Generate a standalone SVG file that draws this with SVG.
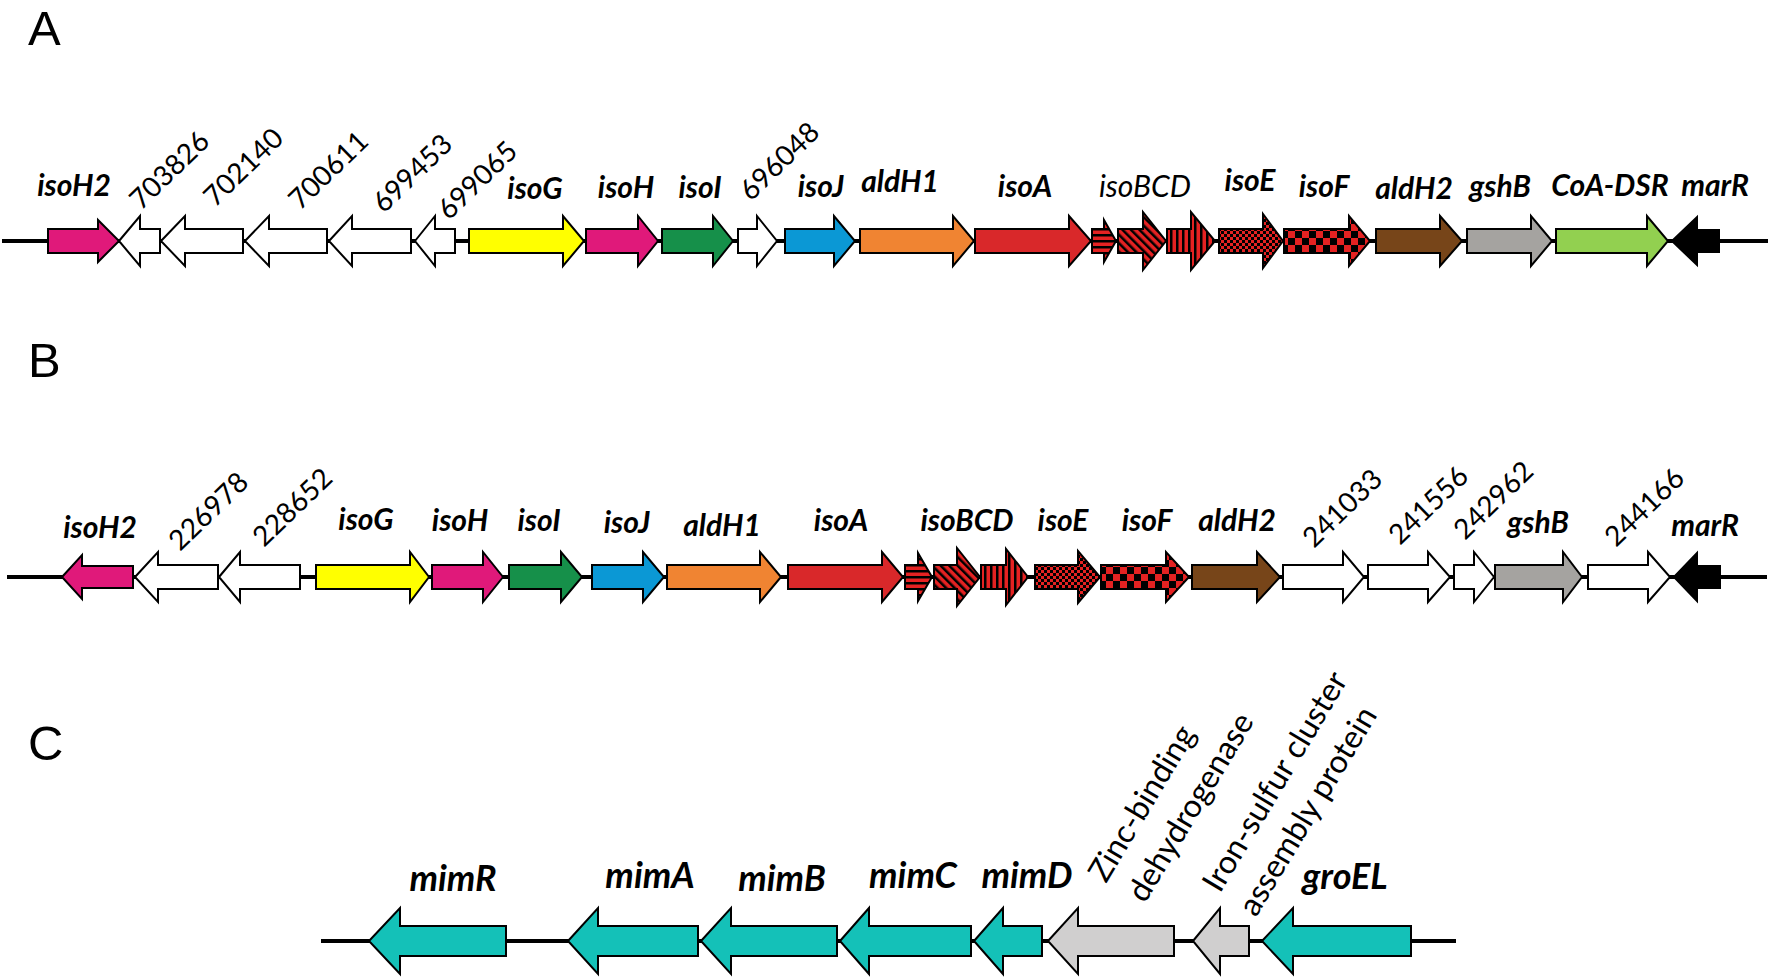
<svg xmlns="http://www.w3.org/2000/svg" width="1770" height="977" viewBox="0 0 1770 977">
<style>
  .bg{fill:#fff}
  .ln{stroke:#000;stroke-width:4;fill:none}
  .g{stroke:#000;stroke-width:2;stroke-linejoin:miter}
  .w{fill:#fff}
  .pk{fill:#E0197A}
  .ye{fill:#FFFF00}
  .gr{fill:#16904A}
  .bl{fill:#0B98D5}
  .or{fill:#F08432}
  .rd{fill:#D9282A}
  .br{fill:#774519}
  .gy{fill:#A5A3A0}
  .lg{fill:#92D050}
  .bk{fill:#000}
  .tl{fill:#14C1B8}
  .lgy{fill:#D0CFCF}
  .hs{fill:url(#phs)}
  .ds{fill:url(#pds)}
  .vs{fill:url(#pvs)}
  .sc{fill:url(#psc)}
  .bc{fill:url(#pbc)}
  .lab{font-family:Lato,"Open Sans","Liberation Sans",sans-serif;font-weight:bold;font-style:italic;font-size:30px;fill:#000;text-anchor:middle}
  .labi{font-family:Lato,"Open Sans","Liberation Sans",sans-serif;font-style:italic;font-size:30px;fill:#000;text-anchor:middle}
  .labc{font-family:Lato,"Open Sans","Liberation Sans",sans-serif;font-weight:bold;font-style:italic;font-size:36px;fill:#000;text-anchor:middle}
  .num{font-family:Lato,"Open Sans","Liberation Sans",sans-serif;font-size:28px;fill:#000}
  .desc{font-family:Lato,"Open Sans","Liberation Sans",sans-serif;font-size:32px;fill:#000}
  .pan{font-family:"Liberation Sans",Arial,sans-serif;font-size:49px;fill:#000}
</style>
<defs>
  <pattern id="phs" width="6" height="6" patternUnits="userSpaceOnUse"><rect width="6" height="6" fill="#E52222"/><rect width="6" height="2.5" fill="#000"/></pattern>
  <pattern id="pds" width="6" height="6" patternUnits="userSpaceOnUse" patternTransform="rotate(-45)"><rect width="6" height="6" fill="#E52222"/><rect width="2.5" height="6" fill="#000"/></pattern>
  <pattern id="pvs" width="6" height="6" patternUnits="userSpaceOnUse"><rect width="6" height="6" fill="#E52222"/><rect width="2.5" height="6" fill="#000"/></pattern>
  <pattern id="psc" width="6" height="6" patternUnits="userSpaceOnUse"><rect width="6" height="6" fill="#E52222"/><rect width="3" height="3" fill="#000"/><rect x="3" y="3" width="3" height="3" fill="#000"/></pattern>
  <pattern id="pbc" width="14" height="14" patternUnits="userSpaceOnUse"><rect width="14" height="14" fill="#E52222"/><rect width="7" height="7" fill="#000"/><rect x="7" y="7" width="7" height="7" fill="#000"/></pattern>
</defs>
<rect class="bg" x="0" y="0" width="1770" height="977"/>

<g id="panel-labels">
  <text class="pan" x="28" y="45">A</text>
  <text class="pan" x="28" y="377">B</text>
  <text class="pan" x="28" y="760">C</text>
</g>

<g id="connectors">
  <line class="ln" x1="2" y1="241" x2="1768" y2="241"/>
  <line class="ln" x1="7" y1="577" x2="1767" y2="577"/>
  <line class="ln" x1="321" y1="941" x2="1456" y2="941"/>
</g>

<!-- Row A -->
<g id="A-isoH2"><polygon class="g pk" points="48,229 98,229 98,220 119,241 98,262 98,253 48,253"/><text class="lab" x="74" y="196">isoH2</text></g>
<g id="A-703826"><polygon class="g w" points="119,241 140,216 140,229 160,229 160,253 140,253 140,266"/><text class="num" transform="translate(141,211) rotate(-44)">703826</text></g>
<g id="A-702140"><polygon class="g w" points="161,241 185,216 185,229 243,229 243,253 185,253 185,266"/><text class="num" transform="translate(215,208) rotate(-44)">702140</text></g>
<g id="A-700611"><polygon class="g w" points="245,241 269,216 269,229 327,229 327,253 269,253 269,266"/><text class="num" transform="translate(300,211) rotate(-44)">700611</text></g>
<g id="A-699453"><polygon class="g w" points="329,241 352,216 352,229 411,229 411,253 352,253 352,266"/><text class="num" transform="translate(384,214) rotate(-44)">699453</text></g>
<g id="A-699065"><polygon class="g w" points="415,241 435,216 435,229 455,229 455,253 435,253 435,266"/><text class="num" transform="translate(449,221) rotate(-44)">699065</text></g>
<g id="A-isoG"><polygon class="g ye" points="469,229 563,229 563,216 584,241 563,266 563,253 469,253"/><text class="lab" x="535" y="199">isoG</text></g>
<g id="A-isoH"><polygon class="g pk" points="586,229 638,229 638,216 658,241 638,266 638,253 586,253"/><text class="lab" x="626" y="198">isoH</text></g>
<g id="A-isoI"><polygon class="g gr" points="662,229 713,229 713,216 733,241 713,266 713,253 662,253"/><text class="lab" x="700" y="198">isoI</text></g>
<g id="A-696048"><polygon class="g w" points="738,229 757,229 757,216 777,241 757,266 757,253 738,253"/><text class="num" transform="translate(751,202) rotate(-44)">696048</text></g>
<g id="A-isoJ"><polygon class="g bl" points="785,229 834,229 834,216 855,241 834,266 834,253 785,253"/><text class="lab" x="821" y="197">isoJ</text></g>
<g id="A-aldH1"><polygon class="g or" points="860,229 953,229 953,216 974,241 953,266 953,253 860,253"/><text class="lab" x="900" y="192">aldH1</text></g>
<g id="A-isoA"><polygon class="g rd" points="975,229 1069,229 1069,216 1091,241 1069,266 1069,253 975,253"/><text class="lab" x="1025" y="197">isoA</text></g>
<g id="A-isoBCD">
  <polygon class="g hs" points="1092,229 1104,229 1104,220 1116,241 1104,262 1104,253 1092,253"/>
  <polygon class="g ds" points="1118,229 1143,229 1143,212 1166,241 1143,270 1143,253 1118,253"/>
  <polygon class="g vs" points="1167,229 1191,229 1191,212 1215,241 1191,270 1191,253 1167,253"/>
  <text class="labi" x="1145" y="197">isoBCD</text>
</g>
<g id="A-isoE"><polygon class="g sc" points="1219,229 1263,229 1263,214 1283,241 1263,268 1263,253 1219,253"/><text class="lab" x="1250" y="191">isoE</text></g>
<g id="A-isoF"><polygon class="g bc" points="1284,229 1349,229 1349,216 1370,241 1349,266 1349,253 1284,253"/><text class="lab" x="1324" y="197">isoF</text></g>
<g id="A-aldH2"><polygon class="g br" points="1376,229 1440,229 1440,216 1462,241 1440,266 1440,253 1376,253"/><text class="lab" x="1414" y="199">aldH2</text></g>
<g id="A-gshB"><polygon class="g gy" points="1467,229 1531,229 1531,216 1552,241 1531,266 1531,253 1467,253"/><text class="lab" x="1500" y="197">gshB</text></g>
<g id="A-CoA-DSR"><polygon class="g lg" points="1556,229 1647,229 1647,216 1668,241 1647,266 1647,253 1556,253"/><text class="lab" x="1610" y="196">CoA-DSR</text></g>
<g id="A-marR"><polygon class="g bk" points="1672,241 1697,217 1697,230 1719,230 1719,252 1697,252 1697,265"/><text class="lab" x="1715" y="196">marR</text></g>

<!-- Row B -->
<g id="B-isoH2"><polygon class="g pk" points="62,577 82,555 82,566 133,566 133,588 82,588 82,599"/><text class="lab" x="100" y="538">isoH2</text></g>
<g id="B-226978"><polygon class="g w" points="135,577 158,552 158,565 218,565 218,589 158,589 158,602"/><text class="num" transform="translate(180,552) rotate(-44)">226978</text></g>
<g id="B-228652"><polygon class="g w" points="219,577 240,552 240,565 300,565 300,589 240,589 240,602"/><text class="num" transform="translate(264,548) rotate(-44)">228652</text></g>
<g id="B-isoG"><polygon class="g ye" points="316,565 410,565 410,552 429,577 410,602 410,589 316,589"/><text class="lab" x="366" y="530">isoG</text></g>
<g id="B-isoH"><polygon class="g pk" points="432,565 483,565 483,552 503,577 483,602 483,589 432,589"/><text class="lab" x="460" y="531">isoH</text></g>
<g id="B-isoI"><polygon class="g gr" points="509,565 561,565 561,552 582,577 561,602 561,589 509,589"/><text class="lab" x="539" y="531">isoI</text></g>
<g id="B-isoJ"><polygon class="g bl" points="592,565 643,565 643,552 664,577 643,602 643,589 592,589"/><text class="lab" x="627" y="533">isoJ</text></g>
<g id="B-aldH1"><polygon class="g or" points="667,565 760,565 760,552 781,577 760,602 760,589 667,589"/><text class="lab" x="722" y="536">aldH1</text></g>
<g id="B-isoA"><polygon class="g rd" points="788,565 882,565 882,552 903,577 882,602 882,589 788,589"/><text class="lab" x="841" y="531">isoA</text></g>
<g id="B-isoBCD">
  <polygon class="g hs" points="905,565 918,565 918,553 932,577 918,601 918,589 905,589"/>
  <polygon class="g ds" points="934,565 957,565 957,548 980,577 957,606 957,589 934,589"/>
  <polygon class="g vs" points="981,565 1006,565 1006,549 1028,577 1006,605 1006,589 981,589"/>
  <text class="lab" x="967" y="531">isoBCD</text>
</g>
<g id="B-isoE"><polygon class="g sc" points="1035,565 1078,565 1078,551 1100,577 1078,603 1078,589 1035,589"/><text class="lab" x="1063" y="531">isoE</text></g>
<g id="B-isoF"><polygon class="g bc" points="1101,565 1166,565 1166,552 1189,577 1166,602 1166,589 1101,589"/><text class="lab" x="1147" y="531">isoF</text></g>
<g id="B-aldH2"><polygon class="g br" points="1192,565 1257,565 1257,552 1280,577 1257,602 1257,589 1192,589"/><text class="lab" x="1237" y="531">aldH2</text></g>
<g id="B-241033"><polygon class="g w" points="1283,565 1343,565 1343,552 1364,577 1343,602 1343,589 1283,589"/><text class="num" transform="translate(1314,549) rotate(-44)">241033</text></g>
<g id="B-241556"><polygon class="g w" points="1368,565 1428,565 1428,552 1450,577 1428,602 1428,589 1368,589"/><text class="num" transform="translate(1400,546) rotate(-44)">241556</text></g>
<g id="B-242962"><polygon class="g w" points="1454,565 1474,565 1474,552 1494,577 1474,602 1474,589 1454,589"/><text class="num" transform="translate(1465,541) rotate(-44)">242962</text></g>
<g id="B-gshB"><polygon class="g gy" points="1495,565 1563,565 1563,552 1582,577 1563,602 1563,589 1495,589"/><text class="lab" x="1538" y="533">gshB</text></g>
<g id="B-244166"><polygon class="g w" points="1588,565 1648,565 1648,552 1670,577 1648,602 1648,589 1588,589"/><text class="num" transform="translate(1616,548) rotate(-44)">244166</text></g>
<g id="B-marR"><polygon class="g bk" points="1674,577 1697,553 1697,566 1720,566 1720,588 1697,588 1697,601"/><text class="lab" x="1705" y="536">marR</text></g>

<!-- Row C -->
<g id="C-mimR"><polygon class="g tl" points="369,941 400,908 400,926 506,926 506,956 400,956 400,974"/><text class="labc" x="453" y="891">mimR</text></g>
<g id="C-mimA"><polygon class="g tl" points="568,941 598,908 598,926 698,926 698,956 598,956 598,974"/><text class="labc" x="650" y="888">mimA</text></g>
<g id="C-mimB"><polygon class="g tl" points="701,941 731,908 731,926 837,926 837,956 731,956 731,974"/><text class="labc" x="782" y="891">mimB</text></g>
<g id="C-mimC"><polygon class="g tl" points="840,941 869,908 869,926 971,926 971,956 869,956 869,974"/><text class="labc" x="913" y="888">mimC</text></g>
<g id="C-mimD"><polygon class="g tl" points="974,941 1003,908 1003,926 1042,926 1042,956 1003,956 1003,974"/><text class="labc" x="1027" y="888">mimD</text></g>
<g id="C-zinc"><polygon class="g lgy" points="1048,941 1078,908 1078,926 1174,926 1174,956 1078,956 1078,974"/>
  <text class="desc" transform="translate(1106,884) rotate(-59)">Zinc-binding</text>
  <text class="desc" transform="translate(1145,904) rotate(-59)">dehydrogenase</text></g>
<g id="C-iron"><polygon class="g lgy" points="1193,941 1220,908 1220,926 1249,926 1249,956 1220,956 1220,974"/>
  <text class="desc" transform="translate(1220,894) rotate(-59)">Iron-sulfur cluster</text>
  <text class="desc" transform="translate(1256,918) rotate(-59)">assembly protein</text></g>
<g id="C-groEL"><polygon class="g tl" points="1262,941 1293,908 1293,926 1411,926 1411,956 1293,956 1293,974"/><text class="labc" x="1345" y="889">groEL</text></g>
</svg>
